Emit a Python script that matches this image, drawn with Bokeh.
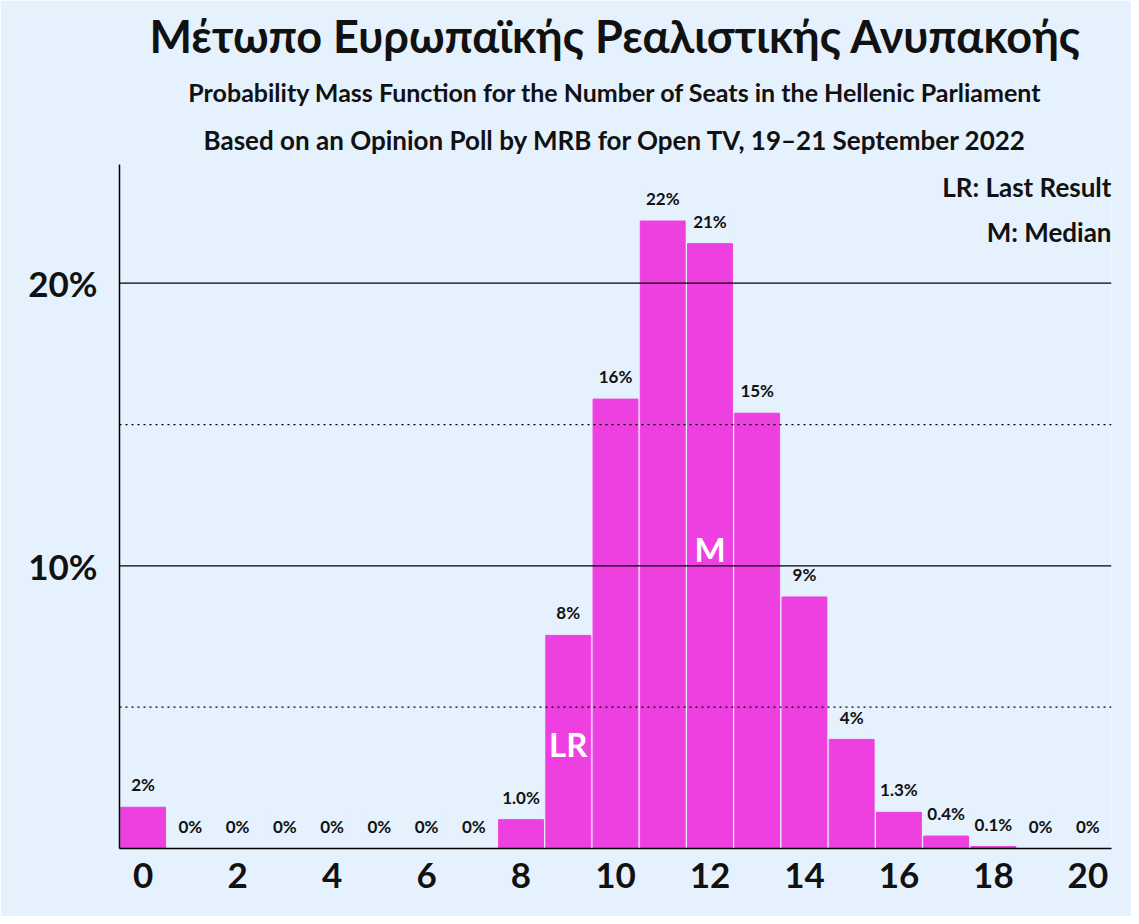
from bokeh.core.properties import value
from bokeh.embed import file_html
from bokeh.models import ColumnDataSource, FixedTicker, Label, Span, Title
from bokeh.plotting import figure
from bokeh.resources import INLINE

TITLE = "Μέτωπο Ευρωπαϊκής Ρεαλιστικής Ανυπακοής"
SUBTITLE_1 = "Probability Mass Function for the Number of Seats in the Hellenic Parliament"
SUBTITLE_2 = "Based on an Opinion Poll by MRB for Open TV, 19–21 September 2022"

seats = list(range(21))
probability = [1.46, 0, 0, 0, 0, 0, 0, 0, 1.02, 7.54, 15.9, 22.2, 21.4, 15.4, 8.9, 3.86,
               1.28, 0.44, 0.07, 0, 0]
bar_labels = ["2%", "0%", "0%", "0%", "0%", "0%", "0%", "0%", "1.0%", "8%", "16%", "22%",
              "21%", "15%", "9%", "4%", "1.3%", "0.4%", "0.1%", "0%", "0%"]
last_result = 9
median = 12

BG = "#E5F1FD"
BAR = "#EE40E0"
FONT = "Lato"

p = figure(width=1131, height=916, x_range=(-0.5, 20.5), y_range=(0, 24.2),
           output_backend="svg", toolbar_location=None,
           min_border_left=119, min_border_right=20, min_border_bottom=68, min_border_top=4)
p.background_fill_color = BG
p.border_fill_color = BG
p.outline_line_color = None
p.grid.visible = False

for t, size, sb in [(SUBTITLE_2, "26px", 18), (SUBTITLE_1, "25px", 12), (TITLE, "45px", 12)]:
    p.add_layout(Title(text=t, align="center", text_font=FONT, text_font_size=size,
                       text_font_style="bold", text_color="#111111", standoff=sb), "above")

for y, dash in [(5, "dotted"), (15, "dotted"), (10, "solid"), (20, "solid")]:
    p.add_layout(Span(location=y, dimension="width", line_color="black",
                      line_width=1.2, line_dash=dash))

src = ColumnDataSource(data=dict(x=seats, top=probability, lab=bar_labels,
                                 ly=[v + 0.35 for v in probability]))
p.vbar(x="x", top="top", width=0.95, color=BAR, source=src)
p.text(x="x", y="ly", text="lab", source=src, text_align="center", text_baseline="bottom",
       text_font=value(FONT), text_font_size="17px", text_font_style="bold",
       text_color="#111111", background_fill_color=BG, padding=2)

p.add_layout(Label(x=last_result, y=3.7, text="LR", text_align="center", text_baseline="middle",
                   text_font=FONT, text_font_size="33px", text_font_style="bold",
                   text_color="white"))
p.add_layout(Label(x=median, y=10.6, text="M", text_align="center", text_baseline="middle",
                   text_font=FONT, text_font_size="33px", text_font_style="bold",
                   text_color="white"))
p.add_layout(Label(x=20.5, y=23.4, text="LR: Last Result", text_align="right",
                   text_baseline="middle", text_font=FONT, text_font_size="26px",
                   text_font_style="bold", text_color="#111111"))
p.add_layout(Label(x=20.5, y=21.8, text="M: Median", text_align="right",
                   text_baseline="middle", text_font=FONT, text_font_size="26px",
                   text_font_style="bold", text_color="#111111"))
p.add_layout(Label(x=20.69, y=30.7, text="© 2022 Filip van Laenen",
                   angle=-1.5708, text_align="left", text_baseline="middle",
                   text_font=FONT, text_font_size="10px", text_color="#333333"))

p.xaxis.ticker = FixedTicker(ticks=list(range(0, 21, 2)))
p.yaxis.ticker = FixedTicker(ticks=[10, 20])
p.yaxis.major_label_overrides = {10: "10%", 20: "20%"}
for ax in (p.xaxis, p.yaxis):
    ax.major_label_text_font = FONT
    ax.major_label_text_font_size = "35px"
    ax.major_label_text_font_style = "bold"
    ax.major_label_text_color = "#111111"
    ax.major_tick_line_color = None
    ax.minor_tick_line_color = None
    ax.axis_line_color = "black"
    ax.axis_line_width = 1.5
p.xaxis.major_label_standoff = 8
p.yaxis.major_label_standoff = 16

open("out.html", "w").write(file_html(p, INLINE))
